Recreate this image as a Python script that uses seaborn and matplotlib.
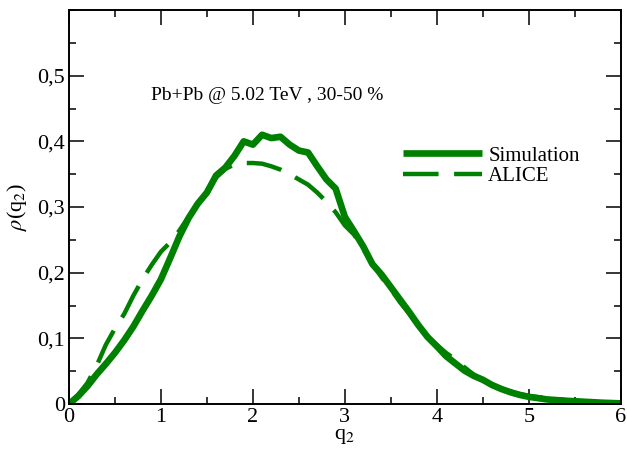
import numpy as np
import pandas as pd
import seaborn as sns
import matplotlib.pyplot as plt
from matplotlib.ticker import MultipleLocator

# values
q2 = [0.0, 0.1, 0.2, 0.3, 0.4, 0.5, 0.6, 0.7, 0.8, 0.9,
      1.0, 1.1, 1.2, 1.3, 1.4, 1.5, 1.6, 1.7, 1.8, 1.9,
      2.0, 2.1, 2.2, 2.3, 2.4, 2.5, 2.6, 2.7, 2.8, 2.9,
      3.0, 3.1, 3.2, 3.3, 3.4, 3.5, 3.6, 3.7, 3.8, 3.9,
      4.0, 4.1, 4.2, 4.3, 4.4, 4.5, 4.6, 4.7, 4.8, 4.9,
      5.0, 5.2, 5.4, 5.6, 5.8, 6.0]
sim = [0.0, 0.012, 0.027, 0.045, 0.061, 0.078, 0.097, 0.118, 0.142, 0.165,
       0.19, 0.222, 0.255, 0.283, 0.305, 0.322, 0.348, 0.36, 0.378, 0.400,
       0.395, 0.410, 0.405, 0.407, 0.395, 0.386, 0.383, 0.362, 0.342, 0.328,
       0.285, 0.263, 0.240, 0.213, 0.197, 0.178, 0.159, 0.14, 0.12, 0.102,
       0.088, 0.073, 0.062, 0.051, 0.043, 0.037, 0.029, 0.023, 0.018, 0.014,
       0.011, 0.007, 0.005, 0.0035, 0.002, 0.001]
alice = [0.0, 0.014, 0.032, 0.058, 0.09, 0.115, 0.137, 0.165, 0.19, 0.212,
         0.232, 0.246, 0.264, 0.285, 0.305, 0.325, 0.345, 0.358, 0.365, 0.367,
         0.367, 0.366, 0.362, 0.357, 0.35, 0.342, 0.334, 0.322, 0.308, 0.292,
         0.272, 0.258, 0.236, 0.214, 0.193, 0.175, 0.155, 0.138, 0.118, 0.102,
         0.09, 0.078, 0.068, 0.056, 0.045, 0.036, 0.03, 0.024, 0.019, 0.015,
         0.012, 0.009, 0.006, 0.004, 0.002, 0.001]

x_ticks = [0, 1, 2, 3, 4, 5, 6]
x_tick_labels = ["0", "1", "2", "3", "4", "5", "6"]
y_ticks = [0.0, 0.1, 0.2, 0.3, 0.4, 0.5]
y_tick_labels = ["0", "0,1", "0,2", "0,3", "0,4", "0,5"]

df = pd.DataFrame({
    "q2": q2 + q2,
    "rho": sim + alice,
    "src": ["Simulation"] * len(q2) + ["ALICE"] * len(q2),
})

sns.set_style("ticks")
plt.rcParams['font.family'] = ['Liberation Serif', 'DejaVu Serif']
plt.rcParams['mathtext.fontset'] = 'stix'
plt.rcParams['text.color'] = 'black'
plt.rcParams['axes.labelcolor'] = 'black'
plt.rcParams['xtick.color'] = 'black'
plt.rcParams['ytick.color'] = 'black'
plt.rcParams['axes.edgecolor'] = 'black'
plt.rcParams['lines.solid_capstyle'] = 'butt'
plt.rcParams['lines.dash_capstyle'] = 'butt'

fig = plt.figure(figsize=(6.27, 4.55), dpi=100)
ax = fig.add_axes([0.110, 0.112, 0.880, 0.866])

green = "#008000"
sns.lineplot(data=df[df.src == "Simulation"], x="q2", y="rho", color=green,
             lw=4.8, ax=ax, label="Simulation")
sns.lineplot(data=df[df.src == "ALICE"], x="q2", y="rho", color=green,
             lw=3.2, ax=ax, label="ALICE", dashes=False)
ax.lines[1].set_dashes((8, 3.5))

ax.set_xlim(0, 6)
ax.set_ylim(0, 0.6)
ax.set_xticks(x_ticks)
ax.set_xticklabels(x_tick_labels)
ax.set_yticks(y_ticks)
ax.set_yticklabels(y_tick_labels)
ax.xaxis.set_minor_locator(MultipleLocator(0.5))
ax.yaxis.set_minor_locator(MultipleLocator(0.05))
ax.tick_params(which="both", direction="in", top=True, right=True,
               labelsize=16, width=1.1, pad=3)
ax.tick_params(which="major", length=11)
ax.tick_params(which="minor", length=5)
for s in ax.spines.values():
    s.set_linewidth(1.4)

ax.set_xlabel("q$_2$", fontsize=16, labelpad=0)
ax.set_ylabel(r"$\rho$(q$_2$)", fontsize=16, labelpad=6)

ax.text(0.148, 0.772, "Pb+Pb @ 5.02 TeV , 30-50 %", transform=ax.transAxes,
        fontsize=14)

leg = ax.legend(loc="upper left", bbox_to_anchor=(0.59, 0.676), frameon=False,
                fontsize=15, handlelength=3.8, labelspacing=0.05,
                handletextpad=0.3, borderaxespad=0)

fig.savefig("out.png", dpi=100)
